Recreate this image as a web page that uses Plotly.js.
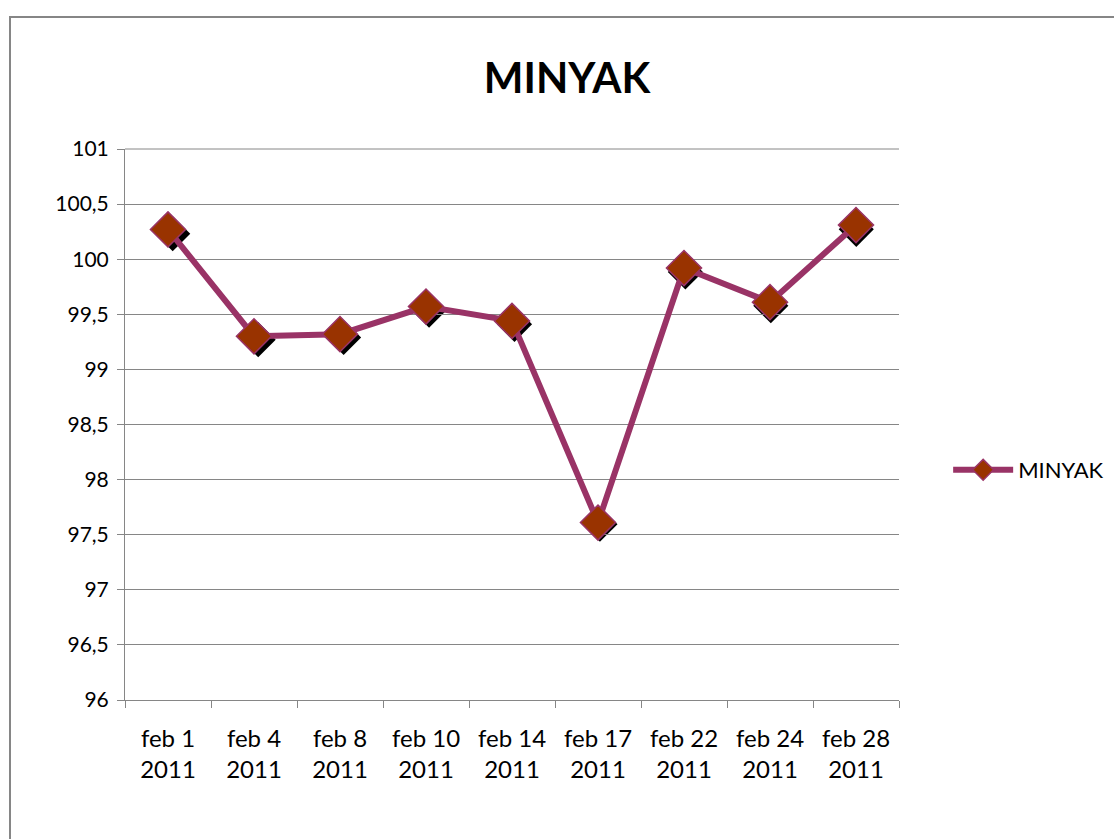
<!DOCTYPE html>
<html>
<head>
<meta charset="utf-8">
<script src="https://cdn.plot.ly/plotly-3.0.1.min.js"></script>
<style>
html,body{margin:0;padding:0;overflow:hidden;background:#fff;}
#chart{width:1114px;height:839px;position:absolute;left:0;top:0;}
#frame{position:absolute;left:9px;top:16px;width:1200px;height:900px;border:2px solid #868686;pointer-events:none;box-sizing:border-box;}
</style>
</head>
<body>
<div id="chart"></div>
<div id="frame"></div>
<script>
const categories = ["feb 1<br>2011","feb 4<br>2011","feb 8<br>2011","feb 10<br>2011","feb 14<br>2011","feb 17<br>2011","feb 22<br>2011","feb 24<br>2011","feb 28<br>2011"];
const minyak = [100.27, 99.30, 99.32, 99.57, 99.44, 97.61, 99.92, 99.61, 100.31];
const seriesName = "MINYAK";

const W = 1114, H = 839;
const L = 125, R = 215, T = 149, B = 139;
const pw = W - L - R, ph = H - T - B;
const sh = 5;
const font = "Lato, 'Open Sans', sans-serif";

// shadow markers on hidden, slightly shifted axes (drawn first)
const shadow = {
  x: categories, y: minyak, xaxis: 'x', yaxis: 'y',
  mode: 'markers', showlegend: false, hoverinfo: 'skip',
  marker: {symbol: 'diamond', size: 27, color: '#000000', line: {width: 0}}
};
const main = {
  x: categories, y: minyak, name: seriesName, xaxis: 'x2', yaxis: 'y2',
  mode: 'lines+markers',
  line: {color: '#993366', width: 6},
  marker: {symbol: 'diamond', size: 27, color: '#993300', line: {color: '#993366', width: 1.5}}
};

const layout = {
  width: W, height: H,
  margin: {l: L, r: R, t: T, b: B, pad: 0, autoexpand: false},
  paper_bgcolor: '#ffffff', plot_bgcolor: 'rgba(0,0,0,0)',
  separators: ',.',
  font: {family: font, size: 21, color: '#000000'},
  title: {text: '<b>MINYAK</b>', font: {family: font, size: 42, color: '#000000'}, x: 567/W, xref: 'container', xanchor: 'center', y: 1 - 78/H, yref: 'container', yanchor: 'middle'},
  xaxis: {type: 'category', range: [-0.5, 8.5], domain: [sh/pw, 1 + sh/pw], anchor: 'y', visible: false, fixedrange: true},
  yaxis: {range: [96, 101], domain: [-sh/ph, 1 - sh/ph], anchor: 'x', visible: false, fixedrange: true},
  xaxis2: {
    type: 'category', range: [-0.5, 8.5], tickson: 'boundaries', anchor: 'y2', domain: [0, 1],
    ticks: 'outside', ticklen: 7, tickcolor: '#868686', tickwidth: 1,
    showline: true, linecolor: '#868686', linewidth: 1,
    showgrid: false, zeroline: false, fixedrange: true,
    tickfont: {family: font, size: 24}, ticklabelstandoff: 17
  },
  yaxis2: {
    range: [96, 101], dtick: 0.5, tick0: 96, anchor: 'x2', domain: [0, 1],
    ticks: 'outside', ticklen: 7, tickcolor: '#868686', tickwidth: 1,
    showline: true, linecolor: '#868686', linewidth: 1,
    showgrid: true, gridcolor: '#868686', gridwidth: 1, zeroline: false, fixedrange: true,
    tickfont: {family: font, size: 21}, ticklabelstandoff: 4
  },
  shapes: [
    {type: 'line', xref: 'x2 domain', yref: 'y2 domain', x0: 0, x1: 1, y0: 1, y1: 1, layer: 'below', line: {color: '#868686', width: 1}}
  ],
  legend: {x: 1.0635, xanchor: 'left', y: 1 - (470 - T)/ph, yanchor: 'middle', font: {family: font, size: 22}, bgcolor: 'rgba(0,0,0,0)', itemwidth: 60},
  showlegend: true
};

Plotly.newPlot('chart', [shadow, main], layout, {displayModeBar: false, staticPlot: true});
</script>
</body>
</html>
